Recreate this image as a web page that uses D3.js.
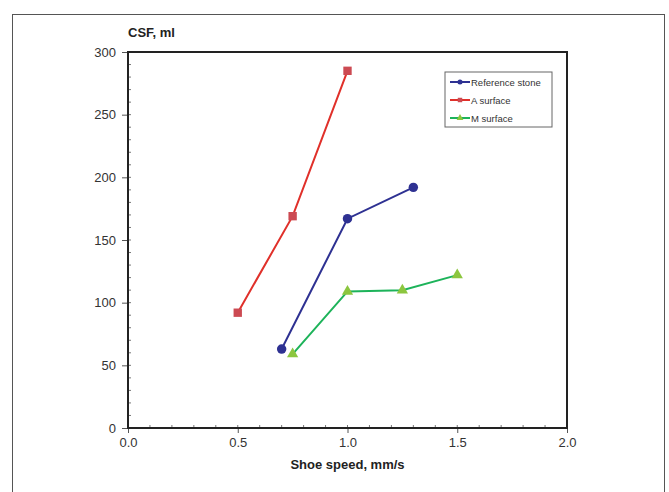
<!DOCTYPE html>
<html>
  <head>
    <style>
      body, html { margin: 0; padding: 0; background: #fff; }
      text { font-family: 'Liberation Sans', Arial, sans-serif; }
    </style>
  </head>
  <body>
    <svg id="svg" width="669" height="492"></svg>
    <script src="https://cdn.jsdelivr.net/npm/d3@7"></script>
    <script>
      const refX = [0.7, 1.0, 1.3];
      const refY = [63, 167, 192];
      const aX = [0.5, 0.75, 1.0];
      const aY = [92, 169, 285];
      const mX = [0.75, 1.0, 1.25, 1.5];
      const mY = [59, 109, 110, 122];
      const seriesNames = ['Reference stone', 'A surface', 'M surface'];
      const xTicks = [0, 0.5, 1.0, 1.5, 2.0];
      const yTicks = [0, 50, 100, 150, 200, 250, 300];

      const svg = d3.select('#svg');
      const mLeft = 128, mRight = 567, mTop = 52, mBottom = 428;

      const x = d3.scaleLinear().domain([0, 2]).range([mLeft, mRight]);
      const y = d3.scaleLinear().domain([0, 300]).range([mBottom, mTop]);

      // outer frame
      svg.append('rect').attr('x', 12.5).attr('y', 14.5).attr('width', 652).attr('height', 500)
        .attr('fill', 'none').attr('stroke', '#555').attr('stroke-width', 1);

      // minor ticks
      const g = svg.append('g');
      g.selectAll('.ymin').data(d3.range(0, 301, 10)).enter().append('line')
        .attr('x1', mLeft).attr('x2', mLeft + 3)
        .attr('y1', (d) => y(d)).attr('y2', (d) => y(d))
        .attr('stroke', '#777').attr('stroke-width', 1);
      g.selectAll('.xmin').data(d3.range(0, 2.01, 0.1)).enter().append('line')
        .attr('x1', (d) => x(d)).attr('x2', (d) => x(d))
        .attr('y1', mBottom).attr('y2', mBottom - 3)
        .attr('stroke', '#777').attr('stroke-width', 1);

      const yAxis = svg.append('g').attr('transform', `translate(${mLeft},0)`)
        .call(d3.axisLeft(y).tickValues(yTicks).tickSize(6).tickPadding(6).tickFormat(d3.format('d')));
      const xAxis = svg.append('g').attr('transform', `translate(0,${mBottom})`)
        .call(d3.axisBottom(x).tickValues(xTicks).tickSize(5).tickPadding(5).tickFormat(d3.format('.1f')));
      [xAxis, yAxis].forEach((a) => {
        a.select('.domain').remove();
        a.selectAll('line').attr('stroke', '#555');
        a.selectAll('text').attr('fill', '#333').style('font-size', '13px')
          .style('font-family', "'Liberation Sans', Arial, sans-serif");
      });

      // plot border
      svg.append('rect').attr('x', mLeft).attr('y', mTop).attr('width', mRight - mLeft).attr('height', mBottom - mTop)
        .attr('fill', 'none').attr('stroke', '#222').attr('stroke-width', 2);

      const line = d3.line().x((d) => x(d[0])).y((d) => y(d[1]));
      const series = [
        { pts: d3.zip(refX, refY), color: '#2e3192', marker: 'circle', fill: '#2e3192' },
        { pts: d3.zip(aX, aY), color: '#e0302a', marker: 'square', fill: '#cc4a52' },
        { pts: d3.zip(mX, mY), color: '#1db35a', marker: 'triangle', fill: '#8cc63f' },
      ];
      const sym = { circle: d3.symbolCircle, square: d3.symbolSquare, triangle: d3.symbolTriangle };

      series.forEach((s) => {
        svg.append('path').attr('d', line(s.pts)).attr('fill', 'none')
          .attr('stroke', s.color).attr('stroke-width', 2);
        svg.append('g').selectAll('path').data(s.pts).enter().append('path')
          .attr('transform', (d) => `translate(${x(d[0])},${y(d[1])})`)
          .attr('d', d3.symbol().type(sym[s.marker]).size(s.marker === 'triangle' ? 55 : 70))
          .attr('fill', s.fill);
      });

      // axis titles
      svg.append('text').attr('x', mLeft).attr('y', 37).text('CSF, ml')
        .style('font-size', '13px').style('font-weight', 'bold').attr('fill', '#222');
      svg.append('text').attr('x', (mLeft + mRight) / 2).attr('y', 469).attr('text-anchor', 'middle')
        .text('Shoe speed, mm/s').style('font-size', '13px').style('font-weight', 'bold').attr('fill', '#222');

      // legend
      const lg = svg.append('g').attr('transform', 'translate(445,72)');
      lg.append('rect').attr('width', 107).attr('height', 55).attr('fill', '#fff')
        .attr('stroke', '#666').attr('stroke-width', 1);
      series.forEach((s, i) => {
        const yy = 10 + i * 18;
        lg.append('line').attr('x1', 5).attr('x2', 25).attr('y1', yy).attr('y2', yy)
          .attr('stroke', s.color).attr('stroke-width', 2);
        lg.append('path').attr('transform', `translate(15,${yy})`)
          .attr('d', d3.symbol().type(sym[s.marker]).size(20)).attr('fill', s.fill);
        lg.append('text').attr('x', 26).attr('y', yy + 3.5).text(seriesNames[i])
          .style('font-size', '9.5px').attr('fill', '#333');
      });
    </script>
  </body>
</html>
